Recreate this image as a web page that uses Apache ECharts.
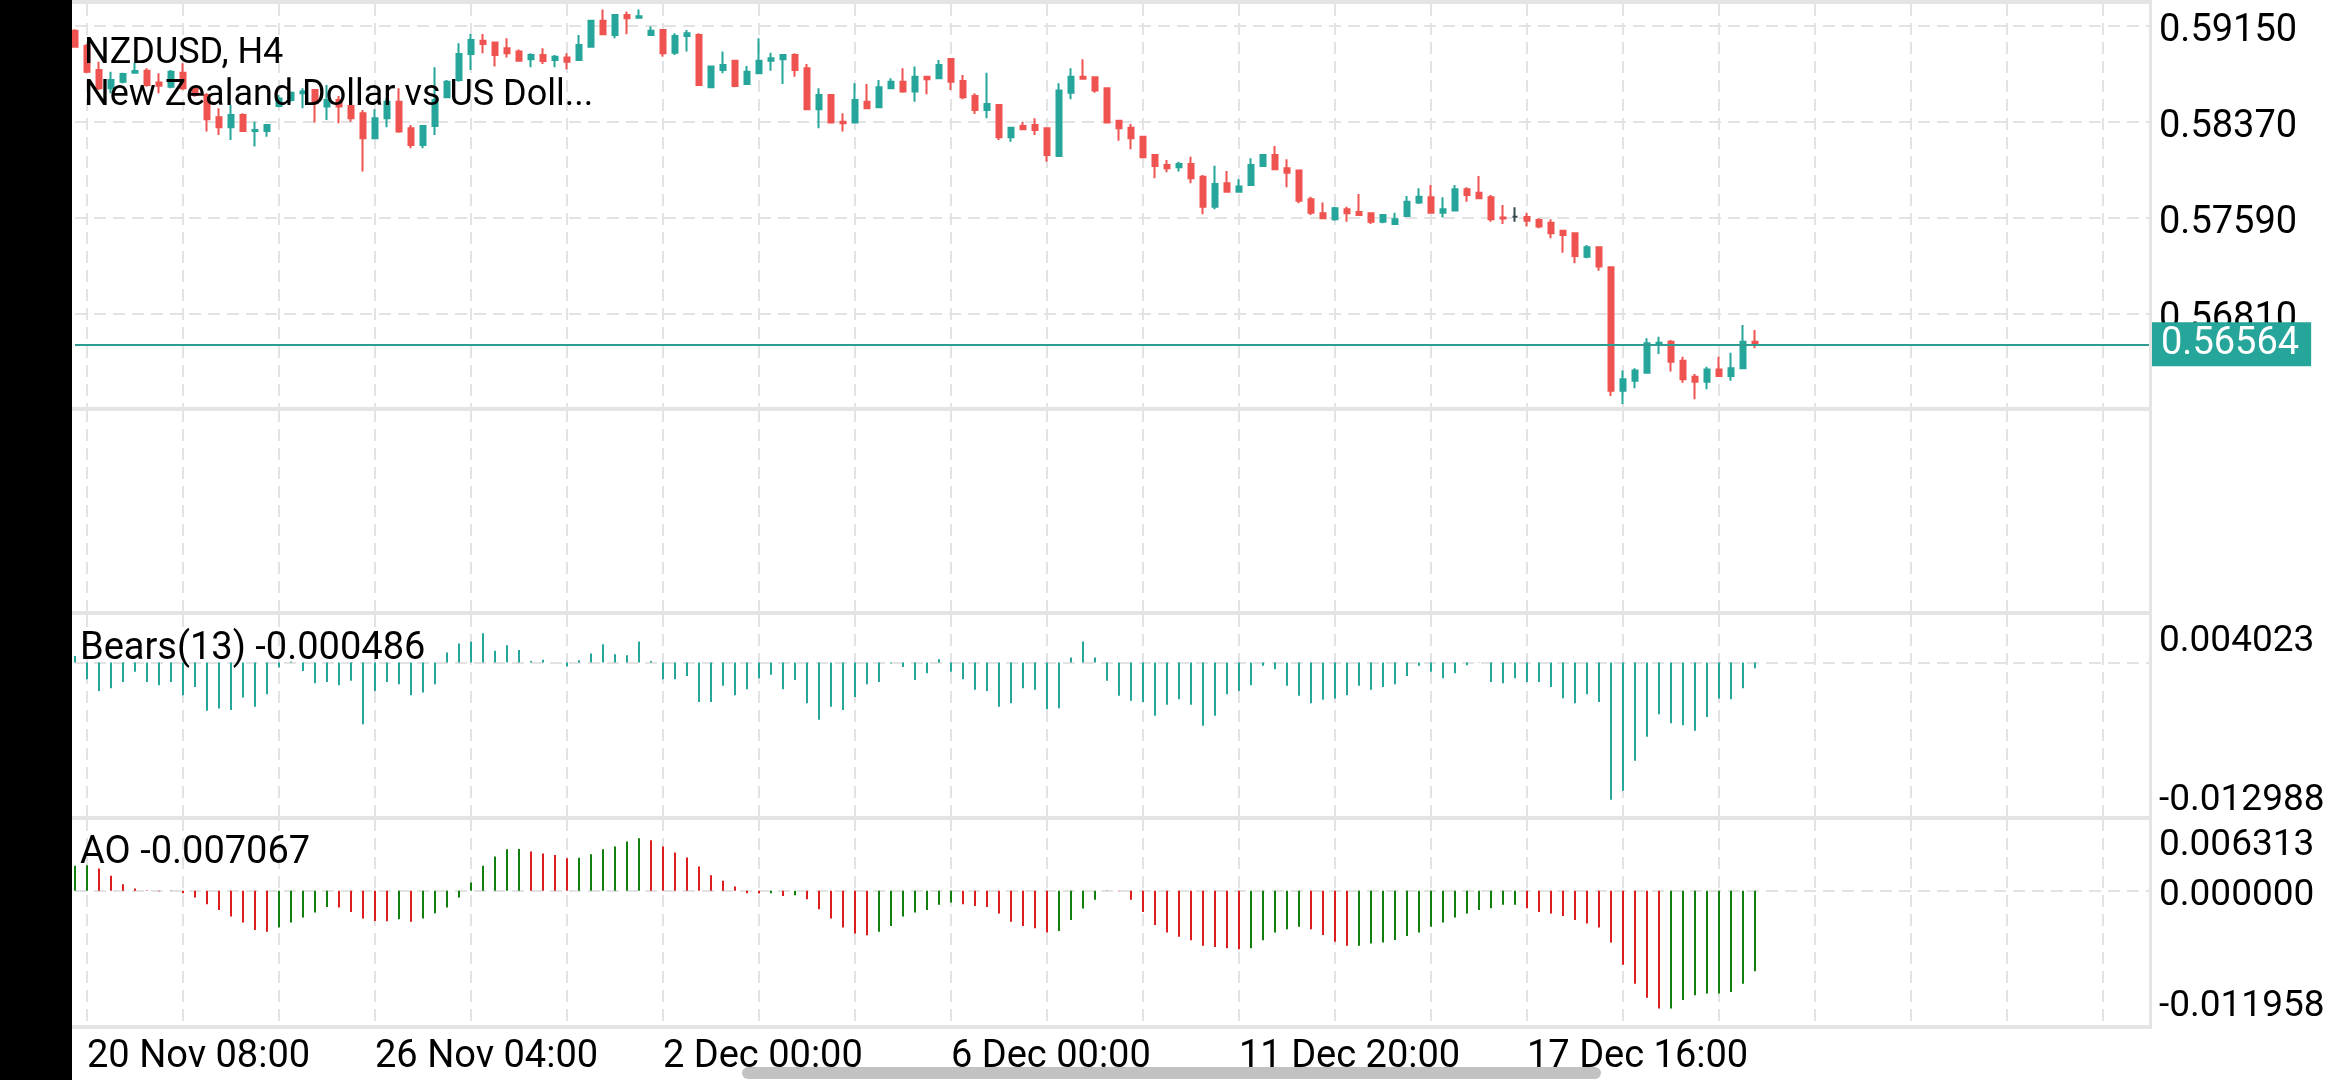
<!DOCTYPE html>
<html>
<head>
<meta charset="utf-8">
<script src="https://cdn.jsdelivr.net/npm/echarts@6/dist/echarts.min.js"></script>
<style>
html,body{margin:0;padding:0;background:#ffffff;}
#chart{width:2340px;height:1080px;}
</style>
</head>
<body>
<div id="chart"></div>
<script>
// ---------- data ----------
const symbolTitle = 'NZDUSD, H4';
const symbolSubtitle = 'New Zealand Dollar vs US Doll...';
const tickLabels = ['20 Nov 08:00', '26 Nov 04:00', '2 Dec 00:00', '6 Dec 00:00', '11 Dec 20:00', '17 Dec 16:00'];
const priceLevels = [0.5915, 0.5837, 0.5759, 0.5681];
const lastPrice = 0.56564;
const bearsRange = [-0.012988, 0.004023];
const aoRange = [-0.011958, 0.006313];

const opens = [0.59112,0.58988,0.58793,0.58644,0.58698,0.58771,0.58787,0.58690,0.58657,0.58771,
0.58644,0.58589,0.58408,0.58327,0.58427,0.58297,0.58297,0.58500,0.58549,0.58603,
0.58630,0.58495,0.58549,0.58500,0.58441,0.58237,0.58400,0.58535,0.58319,0.58183,
0.58338,0.58571,0.58711,0.58923,0.59031,0.59015,0.58969,0.58942,0.58879,0.58914,
0.58874,0.58895,0.58874,0.58982,0.59193,0.59077,0.59239,0.59218,0.59077,0.59118,
0.58933,0.59069,0.59077,0.58652,0.58793,0.58868,0.58679,0.58766,0.58868,0.58879,
0.58914,0.58806,0.58473,0.58589,0.58373,0.58365,0.58535,0.58489,0.58644,0.58698,
0.58617,0.58738,0.58725,0.58882,0.58703,0.58581,0.58468,0.58508,0.58246,0.58338,
0.58346,0.58319,0.58094,0.58608,0.58738,0.58733,0.58644,0.58381,0.58324,0.58251,
0.58102,0.58021,0.58002,0.58029,0.57926,0.57682,0.57872,0.57804,0.57858,0.58013,
0.58102,0.57994,0.57975,0.57742,0.57628,0.57579,0.57661,0.57639,0.57628,0.57560,
0.57541,0.57606,0.57715,0.57758,0.57633,0.57650,0.57823,0.57796,0.57758,0.57595,
0.57601,0.57598,0.57574,0.57552,0.57487,0.57466,0.57276,0.57352,0.57189,0.56187,
0.56268,0.56333,0.56558,0.56585,0.56431,0.56301,0.56260,0.56360,0.56306,0.56369,
0.56585];
const highs = [0.59123,0.59004,0.58860,0.58779,0.58771,0.58852,0.58806,0.58766,0.58793,0.58847,
0.58663,0.58603,0.58481,0.58508,0.58441,0.58373,0.58354,0.58589,0.58617,0.58644,
0.58636,0.58671,0.58581,0.58522,0.58468,0.58473,0.58562,0.58644,0.58346,0.58346,
0.58814,0.58711,0.59009,0.59085,0.59085,0.59023,0.59050,0.58960,0.58928,0.58969,
0.58914,0.58928,0.59077,0.59199,0.59285,0.59248,0.59267,0.59285,0.59145,0.59123,
0.59091,0.59118,0.59091,0.58825,0.58942,0.58874,0.58825,0.59050,0.58933,0.58923,
0.58928,0.58841,0.58644,0.58598,0.58441,0.58684,0.58679,0.58711,0.58725,0.58806,
0.58820,0.58744,0.58874,0.58887,0.58752,0.58603,0.58771,0.58516,0.58332,0.58373,
0.58400,0.58327,0.58684,0.58806,0.58879,0.58735,0.58647,0.58386,0.58354,0.58256,
0.58110,0.58061,0.58048,0.58088,0.57939,0.58015,0.57972,0.57904,0.58075,0.58105,
0.58175,0.58067,0.57980,0.57763,0.57715,0.57682,0.57682,0.57785,0.57636,0.57616,
0.57633,0.57769,0.57831,0.57858,0.57758,0.57858,0.57839,0.57931,0.57777,0.57696,
0.57677,0.57633,0.57587,0.57579,0.57490,0.57471,0.57371,0.57357,0.57195,0.56350,
0.56369,0.56612,0.56626,0.56599,0.56463,0.56323,0.56382,0.56463,0.56496,0.56721,
0.56680];
const lows = [0.58977,0.58766,0.58630,0.58603,0.58684,0.58766,0.58657,0.58603,0.58644,0.58630,
0.58576,0.58292,0.58264,0.58224,0.58292,0.58170,0.58251,0.58489,0.58535,0.58481,
0.58365,0.58386,0.58359,0.58373,0.57967,0.58229,0.58327,0.58283,0.58156,0.58156,
0.58264,0.58562,0.58698,0.58793,0.58928,0.58820,0.58895,0.58860,0.58814,0.58841,
0.58814,0.58798,0.58868,0.58977,0.59077,0.59050,0.59082,0.59212,0.59069,0.58901,
0.58914,0.58942,0.58663,0.58644,0.58766,0.58652,0.58673,0.58760,0.58787,0.58679,
0.58738,0.58470,0.58319,0.58363,0.58292,0.58362,0.58473,0.58486,0.58636,0.58608,
0.58535,0.58595,0.58722,0.58630,0.58554,0.58435,0.58400,0.58224,0.58210,0.58308,
0.58264,0.58048,0.58088,0.58554,0.58719,0.58608,0.58362,0.58218,0.58148,0.58080,
0.57912,0.57961,0.57967,0.57872,0.57620,0.57661,0.57800,0.57796,0.57850,0.58010,
0.57983,0.57839,0.57709,0.57614,0.57579,0.57568,0.57560,0.57612,0.57541,0.57547,
0.57538,0.57601,0.57704,0.57630,0.57595,0.57647,0.57723,0.57748,0.57560,0.57541,
0.57560,0.57520,0.57506,0.57425,0.57308,0.57222,0.57262,0.57162,0.56144,0.56079,
0.56206,0.56330,0.56485,0.56342,0.56252,0.56117,0.56198,0.56303,0.56268,0.56366,
0.56531];
const closes = [0.58982,0.58779,0.58644,0.58711,0.58760,0.58784,0.58671,0.58665,0.58779,0.58644,
0.58589,0.58392,0.58327,0.58427,0.58297,0.58305,0.58346,0.58560,0.58608,0.58617,
0.58522,0.58549,0.58495,0.58400,0.58237,0.58400,0.58535,0.58292,0.58183,0.58338,
0.58549,0.58698,0.58923,0.59036,0.59004,0.58914,0.58928,0.58868,0.58914,0.58866,
0.58901,0.58860,0.58996,0.59193,0.59082,0.59239,0.59212,0.59229,0.59112,0.58928,
0.59069,0.59091,0.58671,0.58820,0.58833,0.58663,0.58779,0.58868,0.58887,0.58914,
0.58793,0.58473,0.58589,0.58365,0.58359,0.58549,0.58481,0.58652,0.58698,0.58617,
0.58738,0.58717,0.58833,0.58698,0.58571,0.58468,0.58516,0.58246,0.58324,0.58311,
0.58305,0.58102,0.58625,0.58738,0.58722,0.58625,0.58365,0.58319,0.58237,0.58083,
0.58013,0.57994,0.58029,0.57912,0.57682,0.57866,0.57804,0.57845,0.58021,0.58102,
0.57986,0.57958,0.57731,0.57633,0.57587,0.57669,0.57628,0.57614,0.57560,0.57614,
0.57579,0.57723,0.57763,0.57633,0.57661,0.57823,0.57777,0.57750,0.57579,0.57585,
0.57601,0.57568,0.57520,0.57466,0.57452,0.57281,0.57352,0.57195,0.56187,0.56279,
0.56350,0.56572,0.56577,0.56423,0.56279,0.56260,0.56360,0.56306,0.56369,0.56585,
0.56564];
const bears = [0.00056,-0.00141,-0.00240,-0.00217,-0.00164,-0.00079,-0.00164,-0.00192,-0.00164,-0.00276,
-0.00206,-0.00409,-0.00389,-0.00401,-0.00296,-0.00375,-0.00268,-0.00042,0.00008,-0.00071,
-0.00175,-0.00164,-0.00192,-0.00155,-0.00522,-0.00240,-0.00164,-0.00183,-0.00276,-0.00254,
-0.00183,0.00085,0.00161,0.00175,0.00248,0.00099,0.00146,0.00107,0.00014,0.00023,
0.00001,-0.00034,0.00020,0.00076,0.00155,0.00071,0.00062,0.00178,0.00014,-0.00141,
-0.00141,-0.00113,-0.00333,-0.00333,-0.00197,-0.00276,-0.00226,-0.00133,-0.00104,-0.00226,
-0.00147,-0.00344,-0.00485,-0.00375,-0.00401,-0.00291,-0.00183,-0.00164,-0.00008,-0.00037,
-0.00147,-0.00090,0.00028,-0.00079,-0.00141,-0.00231,-0.00240,-0.00375,-0.00344,-0.00217,
-0.00231,-0.00395,-0.00386,0.00042,0.00178,0.00042,-0.00155,-0.00282,-0.00324,-0.00333,
-0.00451,-0.00358,-0.00310,-0.00358,-0.00536,-0.00451,-0.00268,-0.00240,-0.00192,-0.00028,
-0.00056,-0.00197,-0.00282,-0.00344,-0.00316,-0.00305,-0.00276,-0.00197,-0.00231,-0.00206,
-0.00183,-0.00113,-0.00028,-0.00079,-0.00133,-0.00090,-0.00023,-0.00002,-0.00164,-0.00175,
-0.00133,-0.00164,-0.00164,-0.00206,-0.00302,-0.00344,-0.00268,-0.00333,-0.01162,-0.01086,
-0.00832,-0.00629,-0.00437,-0.00513,-0.00530,-0.00578,-0.00460,-0.00305,-0.00310,-0.00217,
-0.000486];
const ao = [0.00220,0.00226,0.00196,0.00132,0.00059,0.00021,0.00005,-0.00003,-0.00002,-0.00020,
-0.00059,-0.00117,-0.00167,-0.00226,-0.00278,-0.00343,-0.00360,-0.00322,-0.00278,-0.00234,
-0.00190,-0.00141,-0.00147,-0.00185,-0.00243,-0.00264,-0.00266,-0.00249,-0.00272,-0.00243,
-0.00196,-0.00147,-0.00059,0.00073,0.00220,0.00302,0.00366,0.00367,0.00346,0.00328,
0.00314,0.00287,0.00290,0.00322,0.00366,0.00390,0.00434,0.00463,0.00445,0.00390,
0.00337,0.00293,0.00214,0.00138,0.00088,0.00038,-0.00020,-0.00023,-0.00020,-0.00044,
-0.00038,-0.00073,-0.00161,-0.00243,-0.00322,-0.00375,-0.00390,-0.00360,-0.00308,-0.00226,
-0.00190,-0.00167,-0.00123,-0.00103,-0.00117,-0.00132,-0.00141,-0.00199,-0.00272,-0.00308,
-0.00328,-0.00366,-0.00352,-0.00255,-0.00155,-0.00079,-0.00002,-0.00004,-0.00079,-0.00185,
-0.00299,-0.00366,-0.00404,-0.00434,-0.00483,-0.00492,-0.00504,-0.00513,-0.00504,-0.00434,
-0.00366,-0.00337,-0.00316,-0.00337,-0.00387,-0.00448,-0.00483,-0.00482,-0.00463,-0.00454,
-0.00431,-0.00396,-0.00366,-0.00316,-0.00278,-0.00234,-0.00199,-0.00167,-0.00152,-0.00123,
-0.00122,-0.00152,-0.00185,-0.00199,-0.00220,-0.00255,-0.00287,-0.00322,-0.00454,-0.00650,
-0.00815,-0.00938,-0.01034,-0.01033,-0.00958,-0.00917,-0.00902,-0.00901,-0.00888,-0.00815,
-0.007067];

// ---------- styling ----------
const SLOT_COUNT = 174;
const slots = Array.from({length: SLOT_COUNT}, (_, i) => String(i));
const UP = '#26a69a', DOWN = '#ef5350';
const AO_UP = '#12800f', AO_DOWN = '#dc1e1e';
const FONT = 'Roboto';
const GRID_COLOR = '#e3e3e3';
const SEP_COLOR = '#e4e4e4';
const PRICE_FS = 38;
const IND_FS = 37;
const TIME_FS = 38;

const candleData = opens.map((o, i) => [o, closes[i], lows[i], highs[i]]);
const aoData = ao.map((v, i) => ({
  value: v,
  itemStyle: {color: (i === 0 || v > ao[i - 1]) ? AO_UP : AO_DOWN}
}));

const gridLeft = 75, gridRight = 189;
const grids = [
  {left: gridLeft, right: gridRight, top: 4, bottom: 672},
  {left: gridLeft, right: gridRight, top: 410, bottom: 468},
  {left: gridLeft, right: gridRight, top: 615, bottom: 264},
  {left: gridLeft, right: gridRight, top: 819, bottom: 53}
];

const vSplit = {
  show: true,
  interval: (idx) => (idx - 1) % 8 === 0,
  lineStyle: {color: GRID_COLOR, width: 2, type: [12, 7]}
};
const hSplit = {show: true, lineStyle: {color: GRID_COLOR, width: 2, type: [12, 7]}};

function makeX(gridIndex, withLabels) {
  return {
    type: 'category', gridIndex, data: slots, boundaryGap: false,
    axisLine: {show: false}, axisTick: {show: false},
    splitLine: vSplit,
    axisLabel: withLabels ? {
      show: true, align: 'left', margin: 11,
      fontFamily: FONT, fontSize: TIME_FS, color: '#000',
      interval: (idx) => { const k = (idx - 1) / 24; return Number.isInteger(k) && k >= 0 && k < tickLabels.length; },
      formatter: (val) => { const k = (Number(val) - 1) / 24; return (Number.isInteger(k) && tickLabels[k]) ? tickLabels[k] : ''; }
    } : {show: false}
  };
}

// label placement: vertical alignment + line height + padding keep each label inside its pane
function makeY(gridIndex, min, max, labelVals, splitVals, fmt, fs, vAlign, lh, pad) {
  return {
    type: 'value', gridIndex, position: 'right', min, max, scale: true,
    axisLine: {show: false},
    axisTick: {show: false, customValues: splitVals || labelVals},
    splitLine: splitVals ? hSplit : {show: false},
    axisLabel: {
      show: true, customValues: labelVals, margin: 8,
      fontFamily: FONT, fontSize: fs, color: '#000',
      verticalAlign: vAlign, lineHeight: lh, padding: pad || 0,
      formatter: fmt
    }
  };
}

const f5 = (v) => v.toFixed(5);
const f6 = (v) => v.toFixed(6);

const option = {
  animation: false,
  backgroundColor: '#ffffff',
  textStyle: {fontFamily: FONT},
  title: [
    {text: symbolTitle + '\n' + symbolSubtitle, left: 84, top: 33, padding: 0,
     textStyle: {fontFamily: FONT, fontSize: 36, fontWeight: 'normal', color: '#000', lineHeight: 42}},
    {text: 'Bears(13) ' + bears[bears.length - 1].toFixed(6), left: 80, top: 630, padding: 0,
     textStyle: {fontFamily: FONT, fontSize: 38, fontWeight: 'normal', color: '#000', lineHeight: 38}},
    {text: 'AO ' + ao[ao.length - 1].toFixed(6), left: 80, top: 834, padding: 0,
     textStyle: {fontFamily: FONT, fontSize: 38, fontWeight: 'normal', color: '#000', lineHeight: 38}}
  ],
  grid: grids,
  xAxis: [makeX(0, false), makeX(1, false), makeX(2, false), makeX(3, true)],
  yAxis: [
    makeY(0, 0.5604625, 0.5932875, priceLevels, priceLevels, f5, PRICE_FS, 'top', 11, 0),
    {type: 'value', gridIndex: 1, show: false, min: 0, max: 1},
    makeY(2, bearsRange[0], bearsRange[1], [bearsRange[1]], [0], f6, IND_FS, 'top', 37, [8, 0, 0, 0]),
    makeY(2, bearsRange[0], bearsRange[1], [bearsRange[0]], null, f6, IND_FS, 'bottom', 31, 0),
    makeY(3, aoRange[0], aoRange[1], [aoRange[1]], [0], f6, IND_FS, 'top', 37, [8, 0, 0, 0]),
    makeY(3, aoRange[0], aoRange[1], [0], null, f6, IND_FS, 'top', 9, 0),
    makeY(3, aoRange[0], aoRange[1], [aoRange[0]], null, f6, IND_FS, 'bottom', 40, 0)
  ],
  series: [
    {
      type: 'candlestick', xAxisIndex: 0, yAxisIndex: 0, data: candleData,
      barWidth: 6, clip: false,
      itemStyle: {color: UP, color0: DOWN, borderColor: UP, borderColor0: DOWN, borderColorDoji: '#37474f', borderWidth: 2},
      markLine: {
        silent: true, symbol: ['none', 'none'], animation: false, precision: 5,
        data: [{yAxis: lastPrice}],
        lineStyle: {color: '#2e9c90', width: 2, type: 'solid'},
        label: {
          show: true, position: 'end', distance: 1,
          formatter: () => lastPrice.toFixed(5),
          color: '#fff', backgroundColor: UP, fontFamily: FONT, fontSize: PRICE_FS,
          padding: [4, 12, 2, 9]
        }
      }
    },
    {type: 'bar', xAxisIndex: 2, yAxisIndex: 2, data: bears, barWidth: 2, clip: false,
     itemStyle: {color: UP}},
    {type: 'bar', xAxisIndex: 3, yAxisIndex: 4, data: aoData, barWidth: 2, clip: false}
  ],
  graphic: [
    // pane separators
    {type: 'rect', silent: true, z: 50, shape: {x: 72, y: 0, width: 2080, height: 4}, style: {fill: SEP_COLOR}},
    {type: 'rect', silent: true, z: 50, shape: {x: 72, y: 407, width: 2080, height: 4}, style: {fill: SEP_COLOR}},
    {type: 'rect', silent: true, z: 50, shape: {x: 72, y: 611, width: 2080, height: 4}, style: {fill: SEP_COLOR}},
    {type: 'rect', silent: true, z: 50, shape: {x: 72, y: 816, width: 2080, height: 4}, style: {fill: SEP_COLOR}},
    {type: 'rect', silent: true, z: 50, shape: {x: 72, y: 1025, width: 2080, height: 4}, style: {fill: SEP_COLOR}},
    {type: 'rect', silent: true, z: 50, shape: {x: 2149, y: 0, width: 3, height: 1029}, style: {fill: SEP_COLOR}},
    // scroll bar
    {type: 'rect', silent: true, z: 50, shape: {x: 742, y: 1067, width: 859, height: 12, r: 6}, style: {fill: '#c2c2c2'}},
    // left black strip
    {type: 'rect', silent: true, z: 100, shape: {x: 0, y: 0, width: 72, height: 1080}, style: {fill: '#000'}}
  ]
};

const chart = echarts.init(document.getElementById('chart'), null, {renderer: 'canvas', width: 2340, height: 1080});
chart.setOption(option);
</script>
</body>
</html>
